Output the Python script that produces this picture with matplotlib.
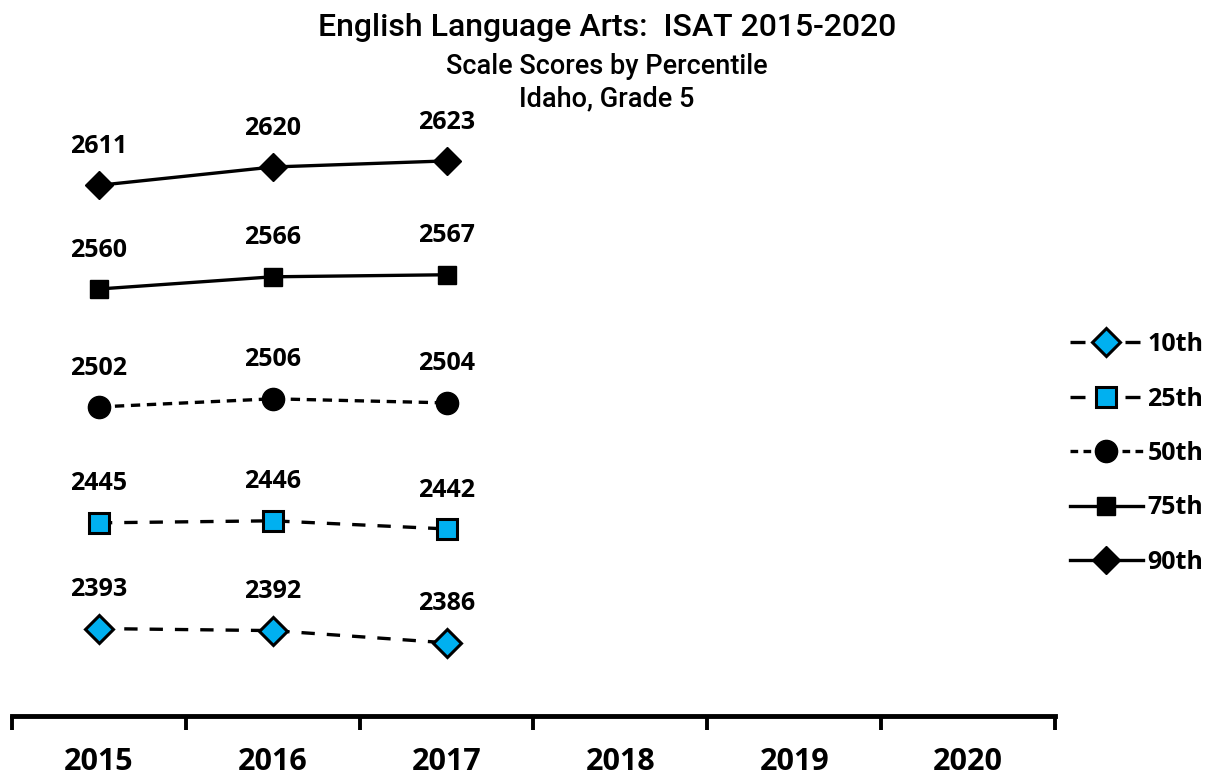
import matplotlib.pyplot as plt
from matplotlib.lines import Line2D

years = ["2015", "2016", "2017", "2018", "2019", "2020"]
years_with_data = [0, 1, 2]
p10 = [2393, 2392, 2386]
p25 = [2445, 2446, 2442]
p50 = [2502, 2506, 2504]
p75 = [2560, 2566, 2567]
p90 = [2611, 2620, 2623]
labels = ["10th", "25th", "50th", "75th", "90th"]

blue = "#00B0F0"
lw = 2.4
styles = [
    dict(marker="D", ms=14, mfc=blue, mec="black", mew=2.2, ls=(0, (4.0, 3.6))),
    dict(marker="s", ms=14, mfc=blue, mec="black", mew=2.2, ls=(0, (4.0, 3.6))),
    dict(marker="o", ms=16, mfc="black", mec="black", mew=1, ls=(0, (2.8, 2.0))),
    dict(marker="s", ms=13, mfc="black", mec="black", mew=1, ls="-"),
    dict(marker="D", ms=14, mfc="black", mec="black", mew=1, ls="-"),
]
# legend keys: long dash, gap under marker, long dash
legend_ls = [(0, (4.5, 12.0)), (0, (4.5, 12.0)), (0, (2.3, 1.6)), "-", "-"]
series = [p10, p25, p50, p75, p90]

fig = plt.figure(figsize=(12.14, 7.81), dpi=100)
ax = fig.add_axes([12 / 1214, 65 / 781, 1043 / 1214, 610 / 781])

for vals, st in zip(series, styles):
    ax.plot(years_with_data, vals, color="black", lw=lw, **st)
    for x, v in zip(years_with_data, vals):
        ax.annotate(str(v), (x, v), xytext=(0, 28), textcoords="offset points",
                    ha="center", va="center", fontsize=18, fontweight="bold",
                    family="Open Sans")

ax.set_xlim(-0.5, 5.5)
ax.set_ylim(2350, 2650)
for s in ["top", "right", "left"]:
    ax.spines[s].set_visible(False)
ax.spines["bottom"].set_linewidth(3.5)
ax.set_yticks([])
ax.set_xticks(range(6))
ax.set_xticklabels(years, fontsize=22, fontweight="bold", family="Open Sans")
ax.tick_params(axis="x", which="major", length=0, pad=22)
ax.set_xticks([i - 0.5 for i in range(7)], minor=True)
ax.tick_params(axis="x", which="minor", length=10, width=2.8, direction="out")

handles = []
for st, ls in zip(styles, legend_ls):
    kw = dict(st)
    kw["ls"] = ls
    handles.append(Line2D([], [], color="black", lw=lw, **kw))
ax.legend(handles, labels, loc="upper left",
          bbox_to_anchor=(1.0 + 5 / 1043, (716 - 322) / 610), frameon=False,
          handlelength=2.9, labelspacing=1.18, handletextpad=0.2,
          borderaxespad=0, prop=dict(family="Open Sans", weight="bold", size=18))

tfam = ["Roboto", "DejaVu Sans"]
fig.text(0.5, 1 - 27 / 781, "English Language Arts:  ISAT 2015-2020", ha="center",
         va="center", fontsize=23, family=tfam, fontweight="medium")
fig.text(0.5, 1 - 66 / 781, "Scale Scores by Percentile", ha="center",
         va="center", fontsize=19.5, family=tfam, fontweight="medium")
fig.text(0.5, 1 - 99 / 781, "Idaho, Grade 5", ha="center",
         va="center", fontsize=19.5, family=tfam, fontweight="medium")

fig.savefig("out.png", dpi=100)
